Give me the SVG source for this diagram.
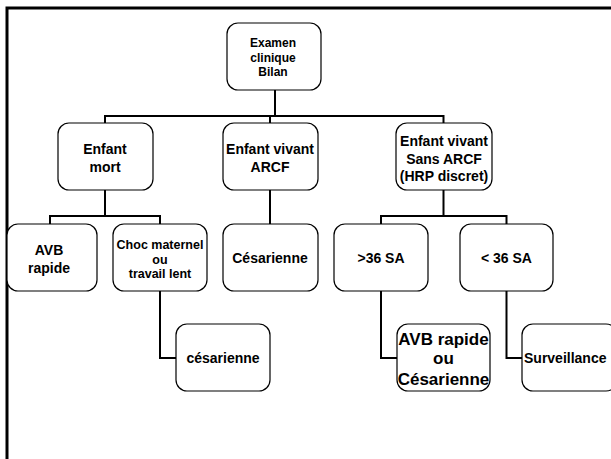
<svg xmlns="http://www.w3.org/2000/svg" width="611" height="459" viewBox="0 0 611 459">
<style>
.box{fill:#fff;stroke:#000;stroke-width:1.2}
.t{font-family:"Liberation Sans",Arial,sans-serif;font-weight:bold;fill:#000;text-anchor:middle}
.c{fill:none;stroke:#000;stroke-width:2}
</style>
<rect x="0" y="0" width="611" height="459" fill="#fff"/>
<path d="M7,459 V8 H611" fill="none" stroke="#000" stroke-width="3"/>
<g id="connectors" class="c">
<path d="M275,90 V116 M105,123 V116 H443.5 V123 M270,116 V123"/>
<path d="M105,190 V216 M50,224 V216 H160 V224"/>
<path d="M270,190 V224"/>
<path d="M443.5,190 V216 M381,224 V216 H506.5 V224"/>
<path d="M160,291 V358 H176"/>
<path d="M381,291 V358 H397"/>
<path d="M506.5,291 V358 H522"/>
</g>
<g id="root"><rect class="box" x="227" y="23" width="94" height="67" rx="11"/>
<text class="t" font-size="12" x="273"><tspan x="273" y="47">Examen</tspan><tspan x="273" y="61.5">clinique</tspan><tspan x="273" y="76">Bilan</tspan></text></g>
<g id="mort"><rect class="box" x="58" y="123" width="95" height="67" rx="11"/>
<text class="t" font-size="14"><tspan x="105" y="154">Enfant</tspan><tspan x="105" y="172">mort</tspan></text></g>
<g id="arcf"><rect class="box" x="223" y="123" width="95" height="67" rx="11"/>
<text class="t" font-size="14"><tspan x="270" y="154">Enfant vivant</tspan><tspan x="270" y="172">ARCF</tspan></text></g>
<g id="sansarcf"><rect class="box" x="396" y="123" width="96" height="67" rx="11"/>
<text class="t" font-size="14"><tspan x="444" y="146">Enfant vivant</tspan><tspan x="444" y="163.5">Sans ARCF</tspan><tspan x="444" y="180.5">(HRP discret)</tspan></text></g>
<g id="avb"><rect class="box" x="7" y="224" width="90" height="67" rx="11"/>
<text class="t" font-size="14"><tspan x="49" y="255">AVB</tspan><tspan x="49" y="273">rapide</tspan></text></g>
<g id="choc"><rect class="box" x="113" y="224" width="94" height="67" rx="11"/>
<text class="t" font-size="12.5"><tspan x="160" y="248.5">Choc maternel</tspan><tspan x="160" y="263.5">ou</tspan><tspan x="160" y="278">travail lent</tspan></text></g>
<g id="cesar1"><rect class="box" x="223" y="224" width="95" height="67" rx="11"/>
<text class="t" font-size="14" x="270" y="263">Césarienne</text></g>
<g id="sup36"><rect class="box" x="334" y="224" width="94" height="67" rx="11"/>
<text class="t" font-size="14" x="381" y="263">&gt;36 SA</text></g>
<g id="inf36"><rect class="box" x="460" y="224" width="93" height="67" rx="11"/>
<text class="t" font-size="14" x="506.5" y="263">&lt; 36 SA</text></g>
<g id="cesar2"><rect class="box" x="176" y="324" width="94" height="67" rx="11"/>
<text class="t" font-size="14" x="223" y="363">césarienne</text></g>
<g id="avbou"><rect class="box" x="397" y="324" width="93" height="67" rx="11"/>
<text class="t" font-size="17"><tspan x="443.5" y="345">AVB rapide</tspan><tspan x="443.5" y="364">ou</tspan><tspan x="443.5" y="385">Césarienne</tspan></text></g>
<g id="surv"><rect class="box" x="522" y="324" width="95" height="67" rx="11"/>
<text class="t" font-size="14" x="524" y="363" text-anchor="start" style="text-anchor:start">Surveillance</text></g>
</svg>
